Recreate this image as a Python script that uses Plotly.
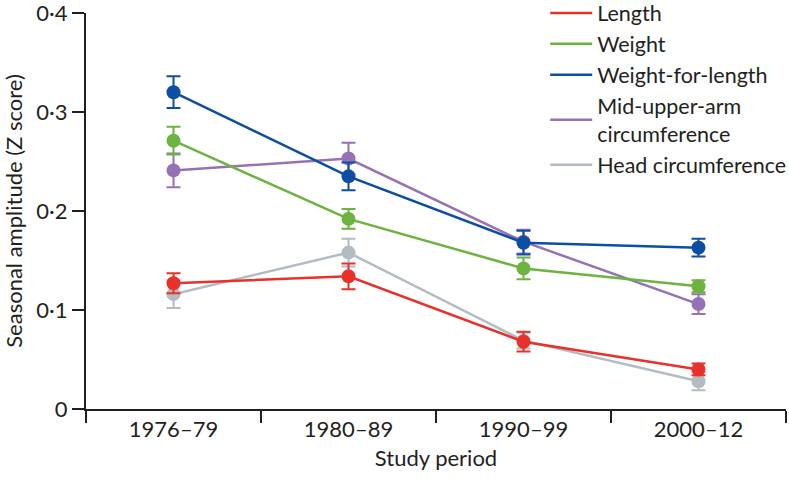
import plotly.graph_objects as go

periods = ["1976–79", "1980–89", "1990–99", "2000–12"]

length = [0.127, 0.134, 0.068, 0.040]
length_err = [0.010, 0.013, 0.010, 0.006]

weight = [0.271, 0.192, 0.142, 0.124]
weight_err = [0.014, 0.010, 0.011, 0.006]

wfl = [0.320, 0.235, 0.168, 0.163]
wfl_err = [0.016, 0.014, 0.012, 0.009]

muac = [0.241, 0.253, 0.169, 0.106]
muac_err = [0.017, 0.016, 0.012, 0.010]

head = [0.116, 0.158, 0.069, 0.028]
head_err = [0.014, 0.014, 0.008, 0.009]

y_ticks = [0, 0.1, 0.2, 0.3, 0.4]
y_tick_text = ["0", "0·1", "0·2", "0·3", "0·4"]

series = [
    ("Length", length, length_err, "#e8312a"),
    ("Weight", weight, weight_err, "#6cb33f"),
    ("Weight-for-length", wfl, wfl_err, "#0b4ea2"),
    ("Mid-upper-arm<br>circumference", muac, muac_err, "#9672b5"),
    ("Head circumference", head, head_err, "#b4bcc3"),
]

FONT = "Lato"
INK = "#231f20"

fig = go.Figure()

# data traces (drawn back to front so the first series sits on top)
for name, vals, err, color in reversed(series):
    fig.add_trace(go.Scatter(
        x=periods, y=vals,
        mode="lines+markers",
        line={"color": color, "width": 2.5},
        marker={"color": color, "size": 14},
        error_y={"type": "data", "array": err, "color": color,
                 "thickness": 2, "width": 7},
        showlegend=False, hoverinfo="skip",
    ))

# legend-only entries: plain line swatches
for name, vals, err, color in series:
    fig.add_trace(go.Scatter(
        x=[None], y=[None], mode="lines", name=name,
        line={"color": color, "width": 2.5},
    ))

fig.update_layout(
    width=789, height=479,
    margin={"l": 86, "r": 3, "t": 13, "b": 70, "autoexpand": False},
    plot_bgcolor="white", paper_bgcolor="white",
    font={"family": FONT, "size": 22, "color": INK},
    showlegend=True,
    legend={"x": 0.656, "y": 1.052, "xanchor": "left", "yanchor": "top",
            "font": {"family": FONT, "size": 21.5, "color": INK},
            "bgcolor": "rgba(0,0,0,0)", "tracegroupgap": 0,
            "itemwidth": 42},
    xaxis={
        "type": "category", "tickson": "boundaries", "range": [-0.5, 3.5],
        "ticks": "outside", "ticklen": 12, "tickwidth": 2, "tickcolor": INK,
        "showline": True, "linecolor": INK, "linewidth": 2,
        "showgrid": False, "zeroline": False,
        "tickfont": {"family": FONT, "size": 22, "color": INK},
        "title": {"text": "Study period", "standoff": 9,
                  "font": {"family": FONT, "size": 22, "color": INK}},
    },
    yaxis={
        "range": [0, 0.4], "tickvals": y_ticks, "ticktext": y_tick_text,
        "ticklabeloverflow": "allow",
        "ticks": "outside", "ticklen": 12, "tickwidth": 2, "tickcolor": INK,
        "showline": True, "linecolor": INK, "linewidth": 2,
        "showgrid": False, "zeroline": False,
        "tickfont": {"family": FONT, "size": 22, "color": INK},
        "title": {"text": "Seasonal amplitude (Z score)", "standoff": 13,
                  "font": {"family": FONT, "size": 22, "color": INK}},
    },
)

fig.write_html("out.html", config={"displayModeBar": False},
               post_script="document.body.style.margin='0';")
